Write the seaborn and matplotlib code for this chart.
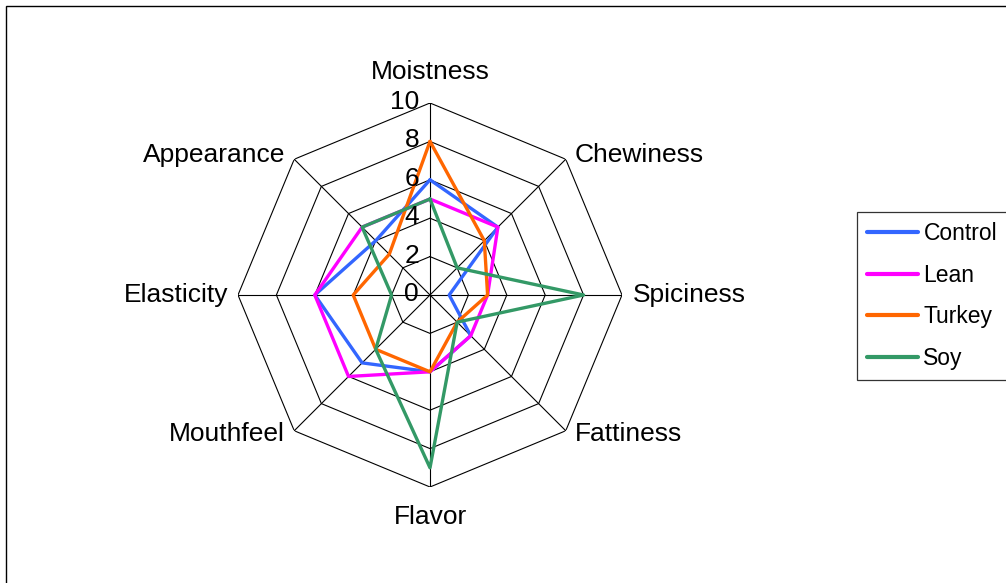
import numpy as np
import pandas as pd
import matplotlib
matplotlib.use("Agg")
import matplotlib.pyplot as plt
import seaborn as sns
from matplotlib.patches import Rectangle

categories = ["Moistness", "Chewiness", "Spiciness", "Fattiness",
              "Flavor", "Mouthfeel", "Elasticity", "Appearance"]
control = [6, 5, 1, 3, 4, 5, 6, 4]
lean = [5, 5, 3, 3, 4, 6, 6, 5]
turkey = [8, 4, 3, 2, 4, 4, 4, 3]
soy = [5, 2, 8, 2, 9, 4, 2, 5]
series_names = ["Control", "Lean", "Turkey", "Soy"]
colors = ["#3366FF", "#FF00FF", "#FF6600", "#339966"]
r_ticks = [0, 2, 4, 6, 8, 10]

sns.set_theme(style="white")
plt.rcParams["font.family"] = ["Liberation Sans", "DejaVu Sans"]
plt.rcParams["text.color"] = "black"

FS = 19
LFS = 16.5

n = len(categories)
angles = np.arange(n) * 2 * np.pi / n
angles_closed = np.append(angles, 2 * np.pi)

rows = []
for name, vals in zip(series_names, [control, lean, turkey, soy]):
    vv = list(vals) + [vals[0]]
    for i, (a, v) in enumerate(zip(angles_closed, vv)):
        rows.append({"theta": a, "value": v, "series": name, "order": i})
df = pd.DataFrame(rows)

fig = plt.figure(figsize=(10.06, 5.83), dpi=100)
ax = fig.add_axes([238 / 1006, 96 / 583, 384 / 1006, 384 / 583], projection="polar")
ax.set_theta_zero_location("N")
ax.set_theta_direction(-1)
ax.set_ylim(0, 10)
ax.spines["polar"].set_visible(False)
ax.yaxis.grid(False)
ax.set_yticks(r_ticks)
ax.set_yticklabels([])
ax.set_xticks(angles)
ax.set_xticklabels([])
ax.xaxis.grid(True, color="black", linewidth=0.8)
ax.set_facecolor("white")

# polygonal rings
for r in r_ticks[1:]:
    ax.plot(angles_closed, [r] * len(angles_closed), color="black", lw=0.8, zorder=1)

sns.lineplot(data=df, x="theta", y="value", hue="series", hue_order=series_names,
             palette=colors, sort=False, estimator=None, lw=2.4, ax=ax, zorder=3)
ax.set_xlabel("")
ax.set_ylabel("")

# radial tick labels along moistness axis
for r in r_ticks:
    ax.annotate(str(r), xy=(0, r), xytext=(-11, 1), textcoords="offset pixels",
                ha="right", va="center", fontsize=FS, color="black", zorder=5)

# category labels
offsets = {
    0: (0, 19, "center", "bottom"),
    1: (9, 4, "left", "center"),
    2: (11, 0, "left", "center"),
    3: (9, -3, "left", "center"),
    4: (0, -18, "center", "top"),
    5: (-9, -3, "right", "center"),
    6: (-10, 0, "right", "center"),
    7: (-9, 4, "right", "center"),
}
for i, cat in enumerate(categories):
    dx, dy, ha, va = offsets[i]
    ax.annotate(cat, xy=(angles[i], 10), xytext=(dx, dy), textcoords="offset pixels",
                ha=ha, va=va, fontsize=FS, color="black", annotation_clip=False)

# legend
handles, labels = ax.get_legend_handles_labels()
ax.legend_.remove()
leg = fig.legend(handles, labels, loc="upper left",
                 bbox_to_anchor=(857 / 1006, 1 - 212 / 583),
                 frameon=True, fancybox=False, fontsize=LFS,
                 handlelength=2.2, handletextpad=0.25, labelspacing=0.81,
                 borderpad=0.45, borderaxespad=0)
for t in leg.get_texts():
    t.set_color("black")
leg.get_frame().set_edgecolor("black")
leg.get_frame().set_linewidth(0.9)
for line in leg.get_lines():
    line.set_linewidth(3)

# outer chart border
fig.patches.append(Rectangle((6 / 1006, -0.1), 1.2, 1 - 6 / 583 + 0.1,
                             transform=fig.transFigure, fill=False,
                             edgecolor="black", lw=1.0, zorder=0))

fig.savefig("out.png", dpi=100)
